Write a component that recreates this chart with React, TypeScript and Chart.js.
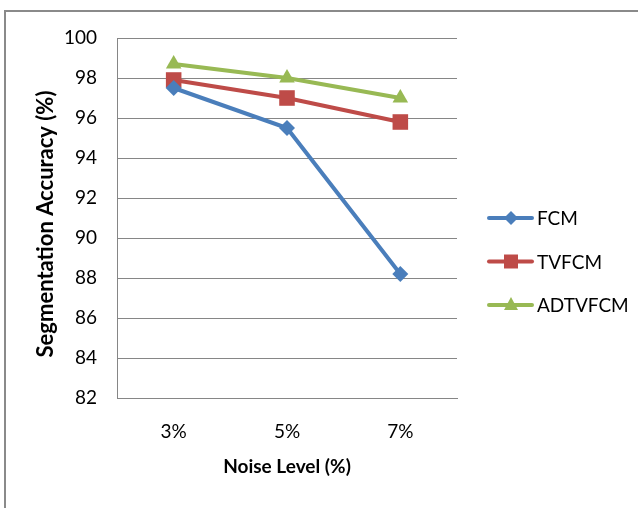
import React, { useEffect, useRef } from "react";
import { Chart, registerables } from "chart.js";

Chart.register(...registerables);

const categories = ["3%", "5%", "7%"];
const fcmValues = [97.5, 95.5, 88.2];
const tvfcmValues = [97.9, 97.0, 95.8];
const adtvfcmValues = [98.7, 98.0, 97.0];
const seriesNames = ["FCM", "TVFCM", "ADTVFCM"];
const seriesColors = ["#4a7ebb", "#be4b48", "#98b954"];
const yMin = 82;
const yMax = 100;
const yStep = 2;
const xTitle = "Noise Level (%)";
const yTitle = "Segmentation Accuracy (%)";

const FONT = "Lato, 'Open Sans', sans-serif";

const legendPlugin = {
  id: "sideLegend",
  afterDraw(chart: any) {
    const ctx = chart.ctx;
    const ds = chart.data.datasets;
    ctx.save();
    ds.forEach((d: any, i: number) => {
      const y = 218 + i * 43.5;
      ctx.strokeStyle = d.borderColor;
      ctx.lineWidth = 4;
      ctx.lineCap = "round";
      ctx.beginPath();
      ctx.moveTo(489, y);
      ctx.lineTo(532, y);
      ctx.stroke();
      ctx.fillStyle = d.backgroundColor;
      ctx.beginPath();
      if (d.pointStyle === "rectRot") {
        ctx.moveTo(511, y - 7);
        ctx.lineTo(518, y);
        ctx.lineTo(511, y + 7);
        ctx.lineTo(504, y);
      } else if (d.pointStyle === "rect") {
        ctx.rect(504, y - 7, 14, 14);
      } else {
        ctx.moveTo(511, y - 8);
        ctx.lineTo(518, y + 5);
        ctx.lineTo(504, y + 5);
      }
      ctx.closePath();
      ctx.fill();
      ctx.fillStyle = "#000";
      ctx.font = "19px " + FONT;
      ctx.textBaseline = "middle";
      ctx.textAlign = "left";
      ctx.fillText(d.label, 537, y + 1);
    });
    // y-axis title
    ctx.translate(46, 224);
    ctx.rotate(-Math.PI / 2);
    ctx.font = "bold 22px " + FONT;
    ctx.textAlign = "center";
    ctx.textBaseline = "middle";
    ctx.fillStyle = "#000";
    ctx.fillText(yTitle, 0, 0);
    ctx.restore();
  },
};

export default function App() {
  const ref = useRef<HTMLCanvasElement | null>(null);
  useEffect(() => {
    if (!ref.current) return;
    const chart = new Chart(ref.current, {
      type: "line",
      data: {
        labels: categories,
        datasets: [
          {
            label: seriesNames[0],
            data: fcmValues,
            borderColor: seriesColors[0],
            backgroundColor: seriesColors[0],
            borderWidth: 4,
            pointStyle: "rectRot",
            pointRadius: 8,
            pointBorderWidth: 0,
          },
          {
            label: seriesNames[1],
            data: tvfcmValues,
            borderColor: seriesColors[1],
            backgroundColor: seriesColors[1],
            borderWidth: 4,
            pointStyle: "rect",
            pointRadius: 11,
            pointBorderWidth: 0,
          },
          {
            label: seriesNames[2],
            data: adtvfcmValues,
            borderColor: seriesColors[2],
            backgroundColor: seriesColors[2],
            borderWidth: 4,
            pointStyle: "triangle",
            pointRadius: 9,
            pointBorderWidth: 0,
          },
        ],
      },
      options: {
        responsive: false,
        animation: false,
        devicePixelRatio: 1,
        layout: { padding: { top: 38, right: 181, bottom: 0, left: 0 } },
        plugins: { legend: { display: false }, tooltip: { enabled: false } },
        scales: {
          x: {
            offset: true,
            grid: { display: false, drawTicks: false },
            border: { display: true, color: "#868686", width: 1 },
            ticks: { color: "#000", font: { family: FONT, size: 19 }, padding: 22 },
            title: {
              display: true,
              text: xTitle,
              color: "#000",
              font: { family: FONT, size: 19, weight: "bold" },
              padding: { top: 0, bottom: 30 },
            },
            afterFit(scale: any) {
              scale.height = 110;
            },
          },
          y: {
            min: yMin,
            max: yMax,
            ticks: {
              stepSize: yStep,
              color: "#000",
              font: { family: FONT, size: 19 },
              padding: 20,
            },
            grid: { color: "#868686", lineWidth: 1, drawTicks: false },
            border: { display: true, color: "#868686", width: 1 },
            title: { display: false },
            afterFit(scale: any) {
              scale.width = 117;
            },
          },
        },
      },
      plugins: [legendPlugin],
    });
    return () => chart.destroy();
  }, []);
  return (
    <div style={{ position: "fixed", left: 0, top: 0, width: 638, height: 508, background: "#fff" }}>
      <div
        style={{
          position: "absolute",
          left: 4,
          top: 10,
          width: 640,
          height: 510,
          borderTop: "2px solid #8a8a8a",
          borderLeft: "2px solid #8a8a8a",
        }}
      />
      <canvas ref={ref} width={638} height={508} style={{ position: "absolute", left: 0, top: 0 }} />
    </div>
  );
}
